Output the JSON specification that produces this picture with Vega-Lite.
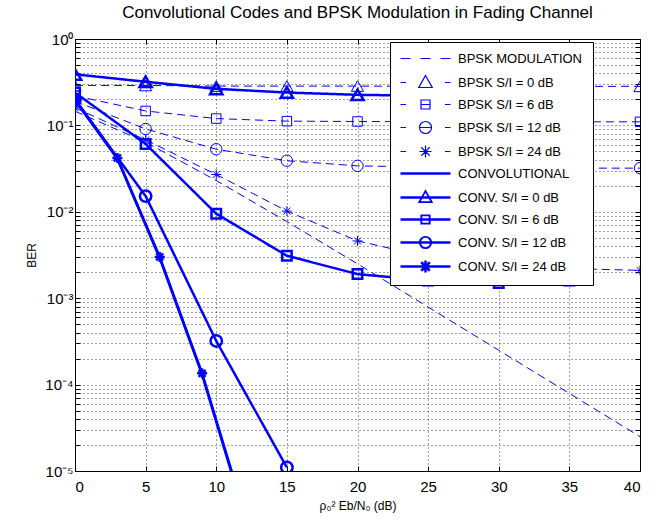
{
  "$schema": "https://vega.github.io/schema/vega-lite/v6.json",
  "width": 565,
  "height": 432,
  "autosize": {"type": "none"},
  "padding": {"left": 75, "top": 39, "right": 30, "bottom": 51},
  "background": "white",
  "title": {"text": "Convolutional Codes and BPSK Modulation in Fading Channel", "font": "Liberation Sans", "fontSize": 17, "fontWeight": "normal", "color": "black", "anchor": "middle", "offset": 10},
  "config": {
    "font": "Liberation Sans",
    "view": {"stroke": "black", "strokeWidth": 1},
    "axis": {
      "labelFont": "Liberation Sans", "labelFontSize": 15, "labelColor": "black",
      "titleFont": "Liberation Sans", "titleFontSize": 12, "titleFontWeight": "normal", "titleColor": "black",
      "domain": false, "tickColor": "black", "tickSize": -5, "labelPadding": 8,
      "grid": true, "gridColor": "black", "gridDash": [1, 3], "gridOpacity": 0.75, "gridWidth": 1
    },
    "legend": {
      "orient": "none", "legendX": 315, "legendY": 3,
      "fillColor": "white", "strokeColor": "black", "padding": 10,
      "symbolSize": 100, "symbolOffset": 19, "labelOffset": 26, "symbolStrokeWidth": 1.2,
      "labelFont": "Liberation Sans", "labelFontSize": 13, "labelColor": "black", "labelLimit": 400,
      "rowPadding": 7
    }
  },
  "data": {"values": [
    {"series": "BPSK MODULATION", "x": 0, "ber": 0.146},
    {"series": "BPSK MODULATION", "x": 5, "ber": 0.064},
    {"series": "BPSK MODULATION", "x": 10, "ber": 0.023},
    {"series": "BPSK MODULATION", "x": 15, "ber": 0.0077},
    {"series": "BPSK MODULATION", "x": 20, "ber": 0.0025},
    {"series": "BPSK MODULATION", "x": 25, "ber": 0.00079},
    {"series": "BPSK MODULATION", "x": 30, "ber": 0.00025},
    {"series": "BPSK MODULATION", "x": 35, "ber": 0.000079},
    {"series": "BPSK MODULATION", "x": 40, "ber": 0.000025},
    {"series": "BPSK S/I = 0 dB", "x": 0, "ber": 0.29},
    {"series": "BPSK S/I = 0 dB", "x": 5, "ber": 0.29},
    {"series": "BPSK S/I = 0 dB", "x": 10, "ber": 0.285},
    {"series": "BPSK S/I = 0 dB", "x": 15, "ber": 0.285},
    {"series": "BPSK S/I = 0 dB", "x": 20, "ber": 0.285},
    {"series": "BPSK S/I = 0 dB", "x": 25, "ber": 0.283},
    {"series": "BPSK S/I = 0 dB", "x": 30, "ber": 0.283},
    {"series": "BPSK S/I = 0 dB", "x": 35, "ber": 0.283},
    {"series": "BPSK S/I = 0 dB", "x": 40, "ber": 0.283},
    {"series": "BPSK S/I = 6 dB", "x": 0, "ber": 0.22},
    {"series": "BPSK S/I = 6 dB", "x": 5, "ber": 0.147},
    {"series": "BPSK S/I = 6 dB", "x": 10, "ber": 0.12},
    {"series": "BPSK S/I = 6 dB", "x": 15, "ber": 0.112},
    {"series": "BPSK S/I = 6 dB", "x": 20, "ber": 0.111},
    {"series": "BPSK S/I = 6 dB", "x": 25, "ber": 0.11},
    {"series": "BPSK S/I = 6 dB", "x": 30, "ber": 0.11},
    {"series": "BPSK S/I = 6 dB", "x": 35, "ber": 0.11},
    {"series": "BPSK S/I = 6 dB", "x": 40, "ber": 0.11},
    {"series": "BPSK S/I = 12 dB", "x": 0, "ber": 0.19},
    {"series": "BPSK S/I = 12 dB", "x": 5, "ber": 0.091},
    {"series": "BPSK S/I = 12 dB", "x": 10, "ber": 0.053},
    {"series": "BPSK S/I = 12 dB", "x": 15, "ber": 0.039},
    {"series": "BPSK S/I = 12 dB", "x": 20, "ber": 0.034},
    {"series": "BPSK S/I = 12 dB", "x": 25, "ber": 0.033},
    {"series": "BPSK S/I = 12 dB", "x": 30, "ber": 0.033},
    {"series": "BPSK S/I = 12 dB", "x": 35, "ber": 0.032},
    {"series": "BPSK S/I = 12 dB", "x": 40, "ber": 0.032},
    {"series": "BPSK S/I = 24 dB", "x": 0, "ber": 0.16},
    {"series": "BPSK S/I = 24 dB", "x": 5, "ber": 0.068},
    {"series": "BPSK S/I = 24 dB", "x": 10, "ber": 0.027},
    {"series": "BPSK S/I = 24 dB", "x": 15, "ber": 0.0102},
    {"series": "BPSK S/I = 24 dB", "x": 20, "ber": 0.0046},
    {"series": "BPSK S/I = 24 dB", "x": 25, "ber": 0.003},
    {"series": "BPSK S/I = 24 dB", "x": 30, "ber": 0.0025},
    {"series": "BPSK S/I = 24 dB", "x": 35, "ber": 0.0022},
    {"series": "BPSK S/I = 24 dB", "x": 40, "ber": 0.0021},
    {"series": "CONVOLUTIONAL", "x": 0, "ber": 0.195},
    {"series": "CONVOLUTIONAL", "x": 3, "ber": 0.041},
    {"series": "CONVOLUTIONAL", "x": 6, "ber": 0.0029},
    {"series": "CONVOLUTIONAL", "x": 9, "ber": 0.00013},
    {"series": "CONVOLUTIONAL", "x": 12, "ber": 0.000003},
    {"series": "CONV. S/I = 0 dB", "x": 0, "ber": 0.39},
    {"series": "CONV. S/I = 0 dB", "x": 5, "ber": 0.32},
    {"series": "CONV. S/I = 0 dB", "x": 10, "ber": 0.265},
    {"series": "CONV. S/I = 0 dB", "x": 15, "ber": 0.24},
    {"series": "CONV. S/I = 0 dB", "x": 20, "ber": 0.226},
    {"series": "CONV. S/I = 0 dB", "x": 25, "ber": 0.22},
    {"series": "CONV. S/I = 0 dB", "x": 30, "ber": 0.215},
    {"series": "CONV. S/I = 0 dB", "x": 35, "ber": 0.215},
    {"series": "CONV. S/I = 6 dB", "x": 0, "ber": 0.24},
    {"series": "CONV. S/I = 6 dB", "x": 5, "ber": 0.061},
    {"series": "CONV. S/I = 6 dB", "x": 10, "ber": 0.0095},
    {"series": "CONV. S/I = 6 dB", "x": 15, "ber": 0.0031},
    {"series": "CONV. S/I = 6 dB", "x": 20, "ber": 0.0019},
    {"series": "CONV. S/I = 6 dB", "x": 25, "ber": 0.0016},
    {"series": "CONV. S/I = 6 dB", "x": 30, "ber": 0.0015},
    {"series": "CONV. S/I = 6 dB", "x": 35, "ber": 0.0016},
    {"series": "CONV. S/I = 12 dB", "x": 0, "ber": 0.2},
    {"series": "CONV. S/I = 12 dB", "x": 5, "ber": 0.0152},
    {"series": "CONV. S/I = 12 dB", "x": 10, "ber": 0.00032},
    {"series": "CONV. S/I = 12 dB", "x": 15, "ber": 0.000011},
    {"series": "CONV. S/I = 24 dB", "x": 0, "ber": 0.2},
    {"series": "CONV. S/I = 24 dB", "x": 3, "ber": 0.042},
    {"series": "CONV. S/I = 24 dB", "x": 6, "ber": 0.003},
    {"series": "CONV. S/I = 24 dB", "x": 9, "ber": 0.000135},
    {"series": "CONV. S/I = 24 dB", "x": 12, "ber": 0.0000032}
  ]},
  "resolve": {"axis": {"x": "independent", "y": "independent"}},
  "layer": [
    {
      "mark": {"type": "line", "clip": true, "color": "#0000ff"},
      "encoding": {
        "x": {"field": "x", "type": "quantitative",
          "scale": {"domain": [0, 40], "nice": false, "zero": false},
          "axis": {"values": [0, 5, 10, 15, 20, 25, 30, 35, 40], "title": "ρ₀² Eb/N₀ (dB)", "titlePadding": 6, "labelPadding": 13}},
        "y": {"field": "ber", "type": "quantitative",
          "scale": {"type": "log", "domain": [0.00001, 1], "nice": false},
          "axis": {"title": "BER", "titlePadding": 6, "labelPadding": 7,
            "values": [0.00001, 0.00002, 0.00003, 0.00004, 0.00005, 0.00006, 0.00007, 0.00008, 0.00009,
                       0.0001, 0.0002, 0.0003, 0.0004, 0.0005, 0.0006, 0.0007, 0.0008, 0.0009,
                       0.001, 0.002, 0.003, 0.004, 0.005, 0.006, 0.007, 0.008, 0.009,
                       0.01, 0.02, 0.03, 0.04, 0.05, 0.06, 0.07, 0.08, 0.09,
                       0.1, 0.2, 0.3, 0.4, 0.5, 0.6, 0.7, 0.8, 0.9, 1],
            "labelExpr": "indexof([1, 0.1, 0.01, 0.001, 0.0001, 0.00001], datum.value) >= 0 ? ['10⁰', '10⁻¹', '10⁻²', '10⁻³', '10⁻⁴', '10⁻⁵'][indexof([1, 0.1, 0.01, 0.001, 0.0001, 0.00001], datum.value)] : ''"}},
        "detail": {"field": "series", "type": "nominal"},
        "strokeWidth": {"condition": {"test": "indexof(datum.series, 'CONV') === 0", "value": 2.5}, "value": 1},
        "strokeDash": {"condition": {"test": "indexof(datum.series, 'BPSK') === 0", "value": [8, 5]}, "value": [1, 0]}
      }
    },
    {
      "transform": [{"filter": {"field": "series", "oneOf": ["BPSK S/I = 0 dB", "CONV. S/I = 0 dB"]}}],
      "mark": {"type": "point", "shape": "triangle-up", "filled": false, "color": "#0000ff", "opacity": 1, "size": 150, "clip": true},
      "encoding": {
        "x": {"field": "x", "type": "quantitative", "axis": null},
        "y": {"field": "ber", "type": "quantitative", "axis": null},
        "strokeWidth": {"condition": {"test": "indexof(datum.series, 'CONV') === 0", "value": 2.5}, "value": 1}}
    },
    {
      "transform": [{"filter": {"field": "series", "oneOf": ["BPSK S/I = 6 dB", "CONV. S/I = 6 dB"]}}],
      "mark": {"type": "point", "shape": "square", "filled": false, "color": "#0000ff", "opacity": 1, "size": 90, "clip": true},
      "encoding": {
        "x": {"field": "x", "type": "quantitative", "axis": null},
        "y": {"field": "ber", "type": "quantitative", "axis": null},
        "strokeWidth": {"condition": {"test": "indexof(datum.series, 'CONV') === 0", "value": 2.5}, "value": 1}}
    },
    {
      "transform": [{"filter": {"field": "series", "oneOf": ["BPSK S/I = 12 dB", "CONV. S/I = 12 dB"]}}],
      "mark": {"type": "point", "shape": "circle", "filled": false, "color": "#0000ff", "opacity": 1, "size": 130, "clip": true},
      "encoding": {
        "x": {"field": "x", "type": "quantitative", "axis": null},
        "y": {"field": "ber", "type": "quantitative", "axis": null},
        "strokeWidth": {"condition": {"test": "indexof(datum.series, 'CONV') === 0", "value": 2.5}, "value": 1}}
    },
    {
      "transform": [{"filter": {"field": "series", "oneOf": ["BPSK S/I = 24 dB", "CONV. S/I = 24 dB"]}}],
      "mark": {"type": "point", "shape": "M0,-1V1M-1,0H1M-0.7,-0.7L0.7,0.7M-0.7,0.7L0.7,-0.7", "filled": false, "color": "#0000ff", "opacity": 1, "size": 100, "clip": true},
      "encoding": {
        "x": {"field": "x", "type": "quantitative", "axis": null},
        "y": {"field": "ber", "type": "quantitative", "axis": null},
        "strokeWidth": {"condition": {"test": "indexof(datum.series, 'CONV') === 0", "value": 2.5}, "value": 1}}
    },
    {
      "transform": [{"filter": "datum.x < 0"}],
      "mark": {"type": "point", "filled": false, "color": "#0000ff", "opacity": 1},
      "encoding": {
        "x": {"field": "x", "type": "quantitative",
          "axis": {"orient": "top", "labels": false, "title": null, "grid": false, "values": [0, 5, 10, 15, 20, 25, 30, 35, 40]}},
        "y": {"field": "ber", "type": "quantitative",
          "axis": {"orient": "right", "labels": false, "title": null, "grid": false,
            "values": [0.00001, 0.00002, 0.00003, 0.00004, 0.00005, 0.00006, 0.00007, 0.00008, 0.00009,
                       0.0001, 0.0002, 0.0003, 0.0004, 0.0005, 0.0006, 0.0007, 0.0008, 0.0009,
                       0.001, 0.002, 0.003, 0.004, 0.005, 0.006, 0.007, 0.008, 0.009,
                       0.01, 0.02, 0.03, 0.04, 0.05, 0.06, 0.07, 0.08, 0.09,
                       0.1, 0.2, 0.3, 0.4, 0.5, 0.6, 0.7, 0.8, 0.9, 1]}},
        "shape": {"field": "series", "type": "nominal",
          "scale": {
            "domain": ["BPSK MODULATION", "BPSK S/I = 0 dB", "BPSK S/I = 6 dB", "BPSK S/I = 12 dB", "BPSK S/I = 24 dB",
                       "CONVOLUTIONAL", "CONV. S/I = 0 dB", "CONV. S/I = 6 dB", "CONV. S/I = 12 dB", "CONV. S/I = 24 dB"],
            "range": [
              "M-5,0H-3M-1,0H1M3,0H5",
              "M-5,0H-3.9M3.9,0H5M0,-1.4L1.35,1L-1.35,1Z",
              "M-5,0H-3.9M3.9,0H5M-0.9,-0.9H0.9V0.9H-0.9ZM-0.9,0H0.9",
              "M-5,0H-3.9M3.9,0H5M-1.2,0A1.2 1.2 0 1 0 1.2 0A1.2 1.2 0 1 0 -1.2 0ZM-1.2,0H1.2",
              "M-5,0H-3.9M3.9,0H5M0,-1.2V1.2M-1.2,0H1.2M-0.85,-0.85L0.85,0.85M-0.85,0.85L0.85,-0.85",
              "M-5,-0.13H5M-5,0H5M-5,0.13H5",
              "M-5,-0.13H5M-5,0H5M-5,0.13H5M0,-1.4L1.35,1L-1.35,1ZM0,-1.2L1.15,0.87L-1.15,0.87Z",
              "M-5,-0.13H5M-5,0H5M-5,0.13H5M-0.9,-0.9H0.9V0.9H-0.9ZM-0.76,-0.76H0.76V0.76H-0.76Z",
              "M-5,-0.13H5M-5,0H5M-5,0.13H5M-1.2,0A1.2 1.2 0 1 0 1.2 0A1.2 1.2 0 1 0 -1.2 0ZM-1.05,0A1.05 1.05 0 1 0 1.05 0A1.05 1.05 0 1 0 -1.05 0Z",
              "M-5,-0.13H5M-5,0H5M-5,0.13H5M0,-1.2V1.2M-0.13,-1.2V1.2M0.13,-1.2V1.2M-0.85,-0.85L0.85,0.85M-0.95,-0.75L0.75,0.95M-0.75,-0.95L0.95,0.75M-0.85,0.85L0.85,-0.85M-0.95,0.75L0.75,-0.95M-0.75,0.95L0.95,-0.75"
            ]},
          "legend": {"title": null}}
      }
    }
  ]
}
